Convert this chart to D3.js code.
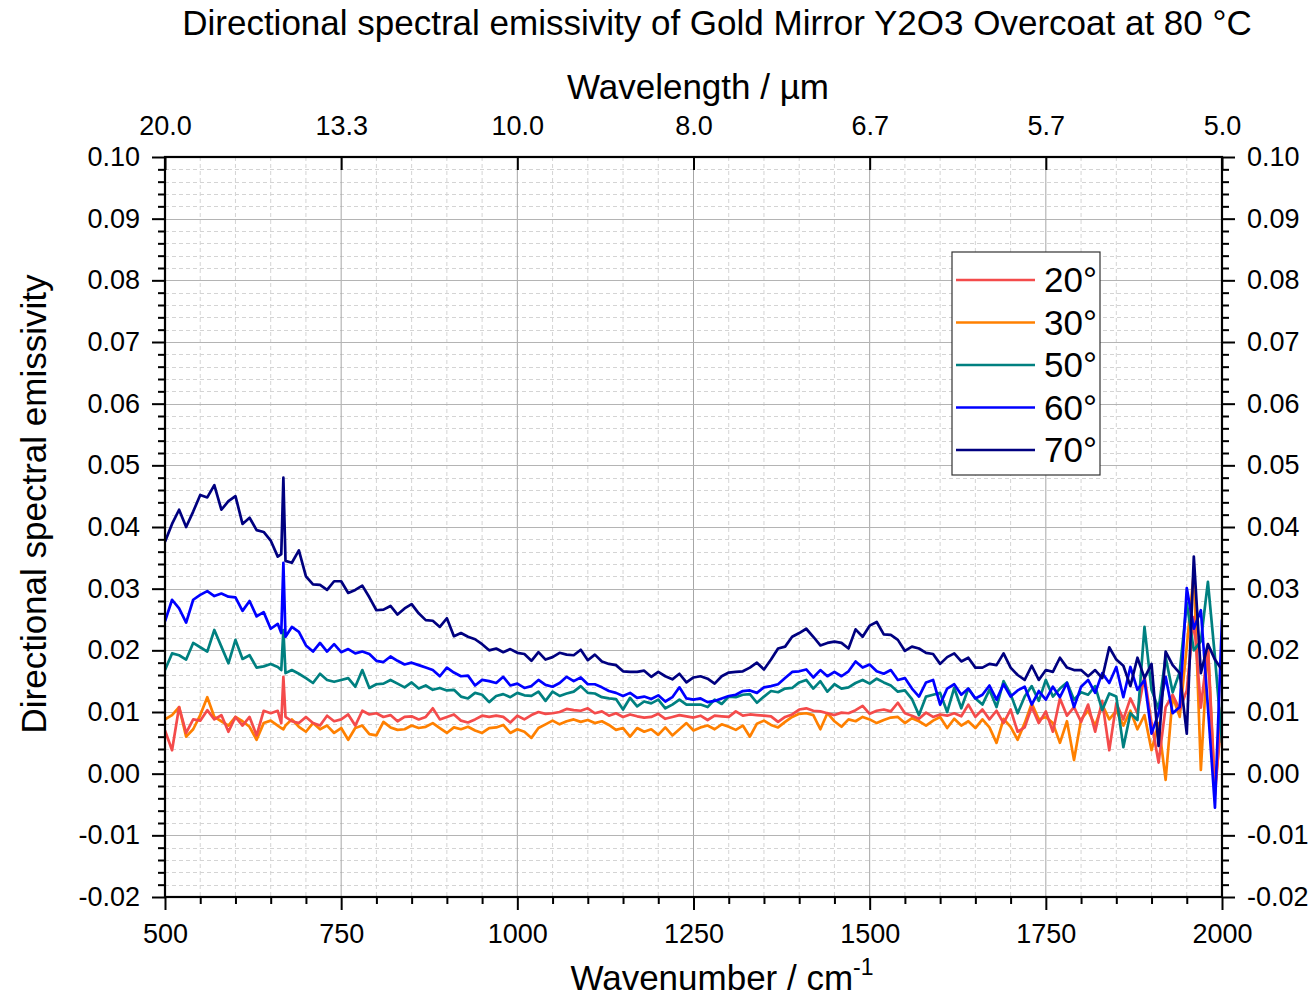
<!DOCTYPE html>
<html>
<head>
<meta charset="utf-8">
<script src="https://cdn.jsdelivr.net/npm/d3@7"></script>
<style>
  html, body { margin: 0; padding: 0; background: #fff; }
  svg { display: block; font-family: "Liberation Sans", Arial, sans-serif; }
</style>
</head>
<body>
<svg id="chart" width="1314" height="998"></svg>
<script>
// Wavenumber grid (cm^-1); extra points resolve the narrow CO2 feature near 668 cm^-1
const wavenumbers = [...d3.range(500, 661, 10), 665, 668, 671, ...d3.range(680, 2001, 10)];

const angles = ["20°", "30°", "50°", "60°", "70°"];
const colors = ["#f44b4b", "#ff8000", "#008080", "#0000ff", "#000080"];

const e20 = [
  0.0070, 0.0038, 0.0108, 0.0066, 0.0088, 0.0086, 0.0103, 0.0088, 0.0095, 0.0068,
  0.0092, 0.0078, 0.0092, 0.0062, 0.0102, 0.0098, 0.0102, 0.0082, 0.0157, 0.0092,
  0.0085, 0.0082, 0.0092, 0.0082, 0.0078, 0.0094, 0.0085, 0.0088, 0.0096, 0.0078,
  0.0102, 0.0096, 0.0098, 0.0092, 0.0095, 0.0085, 0.0092, 0.0093, 0.0088, 0.0092,
  0.0106, 0.0088, 0.0092, 0.0096, 0.0086, 0.0083, 0.0088, 0.0094, 0.0092, 0.0094,
  0.0092, 0.0083, 0.0094, 0.0088, 0.0095, 0.0100, 0.0097, 0.0098, 0.0100, 0.0105,
  0.0103, 0.0102, 0.0106, 0.0098, 0.0101, 0.0094, 0.0098, 0.0092, 0.0096, 0.0093,
  0.0091, 0.0092, 0.0097, 0.0089, 0.0092, 0.0095, 0.0093, 0.0091, 0.0094, 0.0087,
  0.0094, 0.0093, 0.0092, 0.0101, 0.0094, 0.0096, 0.0095, 0.0094, 0.0093, 0.0084,
  0.0092, 0.0096, 0.0104, 0.0106, 0.0102, 0.0101, 0.0098, 0.0095, 0.0099, 0.0098,
  0.0103, 0.0110, 0.0097, 0.0102, 0.0104, 0.0101, 0.0115, 0.0098, 0.0094, 0.0089,
  0.0099, 0.0092, 0.0096, 0.0094, 0.0098, 0.0093, 0.0112, 0.0092, 0.0104, 0.0088,
  0.0102, 0.0082, 0.0104, 0.0068, 0.0075, 0.0108, 0.0082, 0.0101, 0.0068, 0.0122,
  0.0094, 0.0108, 0.0084, 0.0112, 0.0068, 0.0118, 0.0038, 0.0114, 0.0088, 0.0122,
  0.0098, 0.0158, 0.0082, 0.0018, 0.0108, 0.0128, 0.0104, 0.0135, 0.0254, 0.0107,
  0.0205, -0.0035, 0.0108
];

const e30 = [
  0.0088, 0.0095, 0.0108, 0.0060, 0.0072, 0.0095, 0.0124, 0.0092, 0.0085, 0.0078,
  0.0092, 0.0085, 0.0076, 0.0055, 0.0082, 0.0086, 0.0078, 0.0074, 0.0072, 0.0078,
  0.0088, 0.0076, 0.0068, 0.0082, 0.0072, 0.0078, 0.0066, 0.0074, 0.0055, 0.0074,
  0.0078, 0.0064, 0.0062, 0.0084, 0.0075, 0.0071, 0.0072, 0.0078, 0.0074, 0.0076,
  0.0082, 0.0074, 0.0066, 0.0075, 0.0072, 0.0076, 0.0070, 0.0066, 0.0074, 0.0075,
  0.0079, 0.0066, 0.0072, 0.0068, 0.0058, 0.0074, 0.0080, 0.0086, 0.0080, 0.0085,
  0.0088, 0.0084, 0.0087, 0.0082, 0.0085, 0.0079, 0.0071, 0.0074, 0.0060, 0.0074,
  0.0068, 0.0072, 0.0063, 0.0075, 0.0062, 0.0072, 0.0082, 0.0070, 0.0075, 0.0078,
  0.0072, 0.0080, 0.0076, 0.0071, 0.0078, 0.0060, 0.0081, 0.0086, 0.0079, 0.0075,
  0.0084, 0.0092, 0.0097, 0.0098, 0.0095, 0.0072, 0.0098, 0.0085, 0.0076, 0.0088,
  0.0085, 0.0092, 0.0088, 0.0082, 0.0087, 0.0091, 0.0092, 0.0082, 0.0090, 0.0085,
  0.0078, 0.0086, 0.0092, 0.0074, 0.0089, 0.0078, 0.0085, 0.0074, 0.0088, 0.0075,
  0.0050, 0.0089, 0.0076, 0.0055, 0.0082, 0.0114, 0.0088, 0.0092, 0.0082, 0.0050,
  0.0085, 0.0022, 0.0088, 0.0102, 0.0078, 0.0112, 0.0088, 0.0102, 0.0078, 0.0102,
  0.0072, 0.0095, 0.0038, 0.0082, -0.0010, 0.0125, 0.0092, 0.0206, 0.0327, 0.0006,
  0.0210, -0.0025, 0.0098
];

const e50 = [
  0.0168, 0.0195, 0.0192, 0.0185, 0.0212, 0.0205, 0.0198, 0.0233, 0.0206, 0.0179,
  0.0217, 0.0186, 0.0192, 0.0172, 0.0174, 0.0178, 0.0173, 0.0168, 0.0233, 0.0163,
  0.0168, 0.0162, 0.0155, 0.0147, 0.0162, 0.0152, 0.0149, 0.0152, 0.0155, 0.0141,
  0.0168, 0.0139, 0.0145, 0.0146, 0.0152, 0.0146, 0.0140, 0.0148, 0.0138, 0.0143,
  0.0136, 0.0139, 0.0135, 0.0136, 0.0125, 0.0122, 0.0131, 0.0128, 0.0116, 0.0126,
  0.0129, 0.0124, 0.0131, 0.0127, 0.0126, 0.0133, 0.0118, 0.0133, 0.0126, 0.0130,
  0.0133, 0.0142, 0.0131, 0.0130, 0.0124, 0.0122, 0.0121, 0.0104, 0.0123, 0.0109,
  0.0117, 0.0114, 0.0120, 0.0106, 0.0112, 0.0120, 0.0112, 0.0112, 0.0112, 0.0108,
  0.0120, 0.0113, 0.0125, 0.0124, 0.0128, 0.0129, 0.0115, 0.0125, 0.0134, 0.0132,
  0.0138, 0.0139, 0.0148, 0.0152, 0.0138, 0.0150, 0.0133, 0.0145, 0.0138, 0.0140,
  0.0147, 0.0152, 0.0146, 0.0154, 0.0148, 0.0143, 0.0133, 0.0135, 0.0121, 0.0095,
  0.0125, 0.0128, 0.0131, 0.0100, 0.0139, 0.0106, 0.0138, 0.0122, 0.0112, 0.0136,
  0.0108, 0.0150, 0.0129, 0.0098, 0.0125, 0.0142, 0.0118, 0.0152, 0.0125, 0.0138,
  0.0148, 0.0120, 0.0132, 0.0128, 0.0142, 0.0103, 0.0130, 0.0125, 0.0043, 0.0098,
  0.0087, 0.0238, 0.0136, 0.0105, 0.0189, 0.0132, 0.0165, 0.0277, 0.0200, 0.0215,
  0.0311, 0.0189, 0.0050
];

const e60 = [
  0.0247, 0.0282, 0.0268, 0.0245, 0.0282, 0.0290, 0.0296, 0.0288, 0.0292, 0.0287,
  0.0286, 0.0264, 0.0280, 0.0255, 0.0262, 0.0235, 0.0243, 0.0228, 0.0342, 0.0222,
  0.0238, 0.0230, 0.0208, 0.0198, 0.0212, 0.0198, 0.0210, 0.0197, 0.0202, 0.0195,
  0.0198, 0.0194, 0.0183, 0.0181, 0.0190, 0.0183, 0.0177, 0.0180, 0.0176, 0.0172,
  0.0168, 0.0158, 0.0172, 0.0164, 0.0158, 0.0159, 0.0143, 0.0152, 0.0150, 0.0147,
  0.0157, 0.0143, 0.0146, 0.0139, 0.0142, 0.0152, 0.0144, 0.0141, 0.0147, 0.0157,
  0.0150, 0.0156, 0.0145, 0.0145, 0.0140, 0.0134, 0.0131, 0.0126, 0.0131, 0.0123,
  0.0125, 0.0121, 0.0127, 0.0117, 0.0124, 0.0140, 0.0122, 0.0120, 0.0122, 0.0116,
  0.0118, 0.0122, 0.0126, 0.0128, 0.0134, 0.0135, 0.0131, 0.0140, 0.0142, 0.0145,
  0.0155, 0.0165, 0.0166, 0.0169, 0.0156, 0.0168, 0.0158, 0.0165, 0.0158, 0.0166,
  0.0182, 0.0172, 0.0177, 0.0166, 0.0162, 0.0168, 0.0152, 0.0155, 0.0138, 0.0125,
  0.0148, 0.0152, 0.0112, 0.0138, 0.0145, 0.0128, 0.0138, 0.0122, 0.0128, 0.0143,
  0.0120, 0.0145, 0.0125, 0.0135, 0.0141, 0.0112, 0.0134, 0.0120, 0.0141, 0.0124,
  0.0147, 0.0108, 0.0141, 0.0152, 0.0131, 0.0163, 0.0147, 0.0173, 0.0124, 0.0173,
  0.0136, 0.0152, 0.0065, 0.0098, 0.0157, 0.0098, 0.0108, 0.0301, 0.0235, 0.0265,
  0.0108, -0.0055, 0.0250
];

const e70 = [
  0.0376, 0.0405, 0.0428, 0.0400, 0.0425, 0.0452, 0.0448, 0.0468, 0.0428, 0.0442,
  0.0450, 0.0405, 0.0415, 0.0395, 0.0392, 0.0378, 0.0352, 0.0356, 0.0480, 0.0345,
  0.0342, 0.0362, 0.0320, 0.0307, 0.0306, 0.0298, 0.0312, 0.0312, 0.0293, 0.0298,
  0.0305, 0.0286, 0.0265, 0.0266, 0.0272, 0.0258, 0.0268, 0.0275, 0.0260, 0.0249,
  0.0248, 0.0238, 0.0252, 0.0223, 0.0228, 0.0222, 0.0218, 0.0210, 0.0200, 0.0203,
  0.0197, 0.0202, 0.0196, 0.0194, 0.0183, 0.0197, 0.0185, 0.0189, 0.0196, 0.0193,
  0.0192, 0.0201, 0.0184, 0.0193, 0.0182, 0.0178, 0.0176, 0.0166, 0.0165, 0.0165,
  0.0167, 0.0157, 0.0165, 0.0158, 0.0153, 0.0162, 0.0148, 0.0156, 0.0158, 0.0154,
  0.0146, 0.0158, 0.0164, 0.0165, 0.0166, 0.0172, 0.0180, 0.0169, 0.0185, 0.0203,
  0.0206, 0.0222, 0.0228, 0.0235, 0.0222, 0.0208, 0.0212, 0.0214, 0.0212, 0.0203,
  0.0234, 0.0222, 0.0240, 0.0246, 0.0226, 0.0225, 0.0217, 0.0199, 0.0206, 0.0203,
  0.0196, 0.0194, 0.0178, 0.0189, 0.0195, 0.0182, 0.0188, 0.0172, 0.0172, 0.0178,
  0.0176, 0.0195, 0.0172, 0.0160, 0.0152, 0.0175, 0.0152, 0.0168, 0.0165, 0.0188,
  0.0172, 0.0168, 0.0168, 0.0158, 0.0168, 0.0155, 0.0205, 0.0185, 0.0175, 0.0142,
  0.0188, 0.0155, 0.0178, 0.0045, 0.0198, 0.0176, 0.0163, 0.0065, 0.0352, 0.0163,
  0.0210, 0.0185, 0.0168
];

const seriesValues = [e20, e30, e50, e60, e70];

// Axis ticks
const xMajorTicks = [500, 750, 1000, 1250, 1500, 1750, 2000];
const yMajorTicks = [-0.02, -0.01, 0.00, 0.01, 0.02, 0.03, 0.04, 0.05, 0.06, 0.07, 0.08, 0.09, 0.10];

const title = "Directional spectral emissivity of Gold Mirror Y2O3 Overcoat at 80 °C";

// Layout
const margin = { left: 165, top: 157, right: 1222, bottom: 897 };
const svg = d3.select("#chart");

const x = d3.scaleLinear().domain([500, 2000]).range([margin.left, margin.right]);
const y = d3.scaleLinear().domain([-0.02, 0.10]).range([margin.bottom, margin.top]);

const xMinor = d3.range(500, 2001, 50).filter(v => v % 250 !== 0);
const yMinor = d3.range(-20, 101, 2).filter(v => v % 10 !== 0).map(v => v / 1000);

const yFmt = v => d3.format(".2f")(v).replace("\u2212", "-");

// Grid
const grid = svg.append("g");
grid.selectAll(".gxm").data(xMinor).join("line")
  .attr("x1", d => x(d)).attr("x2", d => x(d))
  .attr("y1", margin.top).attr("y2", margin.bottom)
  .attr("stroke", "#d4d4d4").attr("stroke-width", 1).attr("stroke-dasharray", "4,3");
grid.selectAll(".gym").data(yMinor).join("line")
  .attr("x1", margin.left).attr("x2", margin.right)
  .attr("y1", d => Math.round(y(d)) + 0.5).attr("y2", d => Math.round(y(d)) + 0.5)
  .attr("stroke", "#d4d4d4").attr("stroke-width", 1).attr("stroke-dasharray", "4,3");
grid.selectAll(".gx").data(xMajorTicks.slice(1, -1)).join("line")
  .attr("x1", d => x(d)).attr("x2", d => x(d))
  .attr("y1", margin.top).attr("y2", margin.bottom)
  .attr("stroke", "#a6a6a6").attr("stroke-width", 1);
grid.selectAll(".gy").data(yMajorTicks.slice(1, -1)).join("line")
  .attr("x1", margin.left).attr("x2", margin.right)
  .attr("y1", d => Math.round(y(d)) + 0.5).attr("y2", d => Math.round(y(d)) + 0.5)
  .attr("stroke", "#b4b4b4").attr("stroke-width", 1);

// Spectra
svg.append("defs").append("clipPath").attr("id", "plotclip")
  .append("rect")
  .attr("x", margin.left).attr("y", margin.top)
  .attr("width", margin.right - margin.left).attr("height", margin.bottom - margin.top);

const line = d3.line().x((d, i) => x(wavenumbers[i])).y(d => y(d));
const drawOrder = [1, 0, 2, 3, 4];
const lines = svg.append("g").attr("clip-path", "url(#plotclip)");
drawOrder.forEach(k => {
  lines.append("path")
    .datum(seriesValues[k])
    .attr("fill", "none")
    .attr("stroke", colors[k])
    .attr("stroke-width", 2.7)
    .attr("stroke-linejoin", "round")
    .attr("d", line);
});

// Axes
function styleAxis(g) {
  g.select(".domain").remove();
  g.selectAll(".tick line").attr("stroke", "#000").attr("stroke-width", 2);
  g.selectAll(".tick text")
    .attr("fill", "#000")
    .style("font-family", "'Liberation Sans', Arial, sans-serif")
    .style("font-size", "27px");
}

// bottom
svg.append("g").attr("transform", `translate(0,${margin.bottom})`)
  .call(d3.axisBottom(x).tickValues(xMinor).tickSize(7).tickFormat(""))
  .call(styleAxis);
svg.append("g").attr("transform", `translate(0,${margin.bottom})`)
  .call(d3.axisBottom(x).tickValues(xMajorTicks).tickSize(13).tickPadding(14).tickFormat(d3.format("d")))
  .call(styleAxis);

// top: wavelength in µm at the wavenumber ticks, ticks pointing inward
svg.append("g").attr("transform", `translate(0,${margin.top})`)
  .call(d3.axisTop(x).tickValues(xMajorTicks).tickSize(-13).tickPadding(22)
    .tickFormat(d => d3.format(".1f")(10000 / d)))
  .call(styleAxis);

// left
svg.append("g").attr("transform", `translate(${margin.left},0)`)
  .call(d3.axisLeft(y).tickValues(yMinor).tickSize(7).tickFormat(""))
  .call(styleAxis);
svg.append("g").attr("transform", `translate(${margin.left},0)`)
  .call(d3.axisLeft(y).tickValues(yMajorTicks).tickSize(13).tickPadding(12).tickFormat(yFmt))
  .call(styleAxis);

// right
svg.append("g").attr("transform", `translate(${margin.right},0)`)
  .call(d3.axisRight(y).tickValues(yMinor).tickSize(7).tickFormat(""))
  .call(styleAxis);
svg.append("g").attr("transform", `translate(${margin.right},0)`)
  .call(d3.axisRight(y).tickValues(yMajorTicks).tickSize(13).tickPadding(12).tickFormat(yFmt))
  .call(styleAxis);

// Frame
svg.append("rect")
  .attr("x", margin.left).attr("y", margin.top)
  .attr("width", margin.right - margin.left).attr("height", margin.bottom - margin.top)
  .attr("fill", "none").attr("stroke", "#000").attr("stroke-width", 2.2);

// Titles
svg.append("text")
  .attr("x", 717).attr("y", 35)
  .attr("text-anchor", "middle")
  .style("font-size", "35px")
  .text(title);

svg.append("text")
  .attr("x", 698).attr("y", 99)
  .attr("text-anchor", "middle")
  .style("font-size", "35px")
  .text("Wavelength / µm");

const xt = svg.append("text")
  .attr("x", 722).attr("y", 990)
  .attr("text-anchor", "middle")
  .style("font-size", "35px");
xt.append("tspan").text("Wavenumber / cm");
xt.append("tspan").attr("dy", -15).style("font-size", "23px").text("-1");

svg.append("text")
  .attr("transform", "translate(46,504) rotate(-90)")
  .attr("text-anchor", "middle")
  .style("font-size", "35px")
  .text("Directional spectral emissivity");

// Legend
const legend = svg.append("g").attr("transform", "translate(952,252)");
legend.append("rect")
  .attr("width", 148).attr("height", 223)
  .attr("fill", "#fff").attr("stroke", "#333").attr("stroke-width", 1.2);
const entries = legend.selectAll(".entry").data(angles).join("g")
  .attr("transform", (d, i) => `translate(0,${28 + i * 42.5})`);
entries.append("line")
  .attr("x1", 4).attr("x2", 83)
  .attr("stroke", (d, i) => colors[i]).attr("stroke-width", 2.7);
entries.append("text")
  .attr("x", 92).attr("y", 12)
  .style("font-size", "35px")
  .text(d => d);
</script>
</body>
</html>
